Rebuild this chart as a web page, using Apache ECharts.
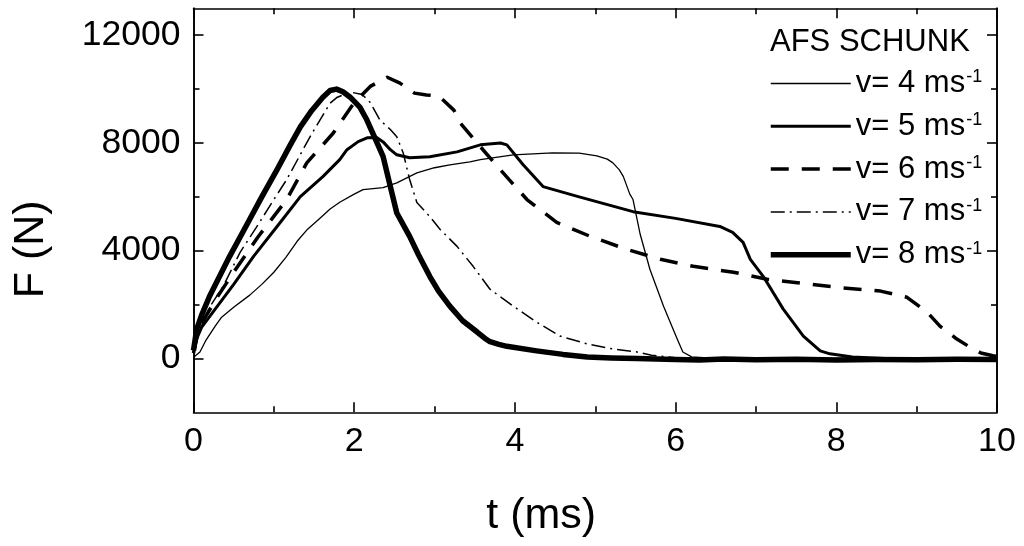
<!DOCTYPE html>
<html>
<head>
<meta charset="utf-8">
<script src="https://cdn.jsdelivr.net/npm/echarts@6/dist/echarts.min.js"></script>
<style>
html,body{margin:0;padding:0;background:#fff;}
#chart{width:1024px;height:546px;}
</style>
</head>
<body>
<div id="chart"></div>
<script>
// ---- data (t in ms, F in N) ----
const seriesNames = ['v= 4 ms', 'v= 5 ms', 'v= 6 ms', 'v= 7 ms', 'v= 8 ms'];
const legendTitle = 'AFS SCHUNK';
const xTitle = 't (ms)';
const yTitle = 'F (N)';
const yMajorTicks = [0, 4000, 8000, 12000];
const yMinorTicks = [2000, 6000, 10000];

const v4 = [[0,0],[0.02,90],[0.08,240],[0.15,650],[0.27,1200],[0.35,1530],[0.5,1900],[0.7,2350],[0.85,2750],[1.0,3200],[1.15,3750],[1.29,4350],[1.42,4800],[1.55,5140],[1.7,5550],[1.82,5800],[2.0,6100],[2.11,6270],[2.36,6340],[2.53,6520],[2.78,6890],[3.0,7080],[3.19,7190],[3.44,7300],[3.57,7380],[3.98,7560],[4.47,7630],[4.8,7620],[5.02,7520],[5.15,7400],[5.22,7260],[5.3,7000],[5.35,6750],[5.43,6100],[5.47,5900],[5.56,4600],[5.68,3310],[5.85,1940],[6.02,720],[6.09,240],[6.2,60],[6.5,0],[7,-20],[8,0],[9,-20],[10,0]];

const v5 = [[0,300],[0.05,800],[0.1,1150],[0.2,1550],[0.3,1950],[0.5,2750],[0.75,3800],[1.04,4900],[1.33,6010],[1.61,6750],[1.82,7380],[1.91,7750],[2.05,8050],[2.16,8190],[2.28,8200],[2.36,8040],[2.45,7750],[2.53,7560],[2.69,7450],[2.94,7490],[3.28,7670],[3.57,7930],[3.82,8000],[3.9,7930],[4.1,7200],[4.35,6380],[4.8,6000],[5.47,5450],[6.0,5200],[6.55,4900],[6.71,4680],[6.84,4310],[6.93,3680],[7.09,3050],[7.34,1830],[7.59,830],[7.8,280],[7.92,170],[8.2,50],[8.6,0],[9,-20],[10,0]];

const v6 = [[0,200],[0.05,900],[0.1,1300],[0.3,2300],[0.5,3200],[0.8,4500],[1.16,5900],[1.41,7260],[1.74,8370],[2.0,9500],[2.2,10100],[2.41,10440],[2.57,10220],[2.75,9850],[2.9,9780],[3.05,9750],[3.24,9220],[3.32,8740],[3.53,8000],[3.82,7000],[4.15,5900],[4.52,5050],[4.94,4530],[5.39,4050],[5.81,3680],[6.22,3420],[6.72,3200],[7.14,2940],[7.46,2830],[8.01,2640],[8.55,2500],[8.88,2270],[9.13,1720],[9.29,1200],[9.5,720],[9.66,425],[9.8,200],[9.95,100],[10,80]];

const v7 = [[0,200],[0.05,800],[0.1,1200],[0.2,1900],[0.37,2680],[0.58,3940],[0.79,4900],[1.0,5900],[1.16,6640],[1.45,8230],[1.7,9480],[1.79,9700],[1.95,9890],[2.1,9800],[2.2,9500],[2.32,8850],[2.45,8500],[2.53,8230],[2.61,7630],[2.69,6640],[2.78,5790],[2.94,5270],[3.07,4790],[3.28,4160],[3.48,3420],[3.69,2570],[3.98,1940],[4.27,1350],[4.56,830],[4.9,540],[5.22,350],[5.52,240],[5.7,120],[6.0,30],[7,0],[8,-10],[9,0],[10,0]];

const v8 = [[0,300],[0.04,1090],[0.1,1600],[0.2,2310],[0.3,2900],[0.45,3790],[0.67,5000],[0.85,6000],[1.04,7010],[1.2,7900],[1.33,8600],[1.47,9200],[1.61,9700],[1.7,9950],[1.78,10000],[1.86,9900],[1.95,9700],[2.07,9330],[2.15,8900],[2.23,8370],[2.3,7900],[2.36,7490],[2.45,6380],[2.53,5400],[2.69,4530],[2.8,3850],[2.94,3050],[3.05,2500],[3.19,1940],[3.35,1400],[3.53,980],[3.62,760],[3.69,620],[3.8,520],[3.9,450],[4.27,280],[4.6,150],[4.9,55],[5.2,20],[5.52,0],[6,-40],[6.3,-60],[6.6,-20],[7,-50],[7.5,-30],[8,-60],[8.5,-40],[9,-50],[9.5,-30],[10,-40]];

const allData = [v4, v5, v6, v7, v8];

// ---- styles ----
const FONT = '"Liberation Sans", Arial, sans-serif';
const lineStyles = [
  {width: 1.3, type: 'solid'},
  {width: 3, type: 'solid'},
  {width: 3.5, type: [18, 13]},
  {width: 1.5, type: [14, 5, 2, 5]},
  {width: 5.5, type: 'solid'}
];
const axisLineStyle = {color: '#000', width: 1.6};

function xAx(pos, labels) {
  return {
    type: 'value', position: pos, min: 0, max: 10, interval: 2,
    axisLine: {show: true, onZero: false, lineStyle: axisLineStyle},
    axisTick: {show: true, inside: true, length: 10, lineStyle: axisLineStyle},
    minorTick: {show: true, splitNumber: 2, length: 6, lineStyle: axisLineStyle},
    splitLine: {show: false}, minorSplitLine: {show: false},
    axisLabel: {show: labels, fontSize: 34, color: '#000', fontFamily: FONT, margin: 12},
    name: labels ? xTitle : '', nameLocation: 'middle', nameGap: 82,
    nameTextStyle: {fontSize: 43, color: '#000', fontFamily: FONT, padding: [0, 108, 0, 0]}
  };
}
function yAx(pos, ticks, len, labels, withName) {
  return {
    type: 'value', position: pos, min: -2000, max: 13000, offset: 0,
    axisLine: {show: true, onZero: false, lineStyle: axisLineStyle},
    axisTick: {show: true, inside: true, length: len, lineStyle: axisLineStyle, customValues: ticks},
    splitLine: {show: false},
    axisLabel: {show: labels, customValues: ticks, fontSize: 35.5, color: '#000', fontFamily: FONT, margin: 13,
      formatter: function (v) { return String(v); }},
    name: withName ? yTitle : '', nameLocation: 'middle', nameGap: 141,
    nameTextStyle: {fontSize: 43, color: '#000', fontFamily: FONT, padding: [0, 78, 0, 0]}
  };
}

const chart = echarts.init(document.getElementById('chart'), null, {renderer: 'canvas'});
chart.setOption({
  animation: false,
  backgroundColor: '#fff',
  grid: {left: 193.5, right: 27, top: 8.3, bottom: 133.7, containLabel: false},
  title: {
    text: legendTitle, left: 770, top: 27, padding: 0,
    textStyle: {fontSize: 31, fontWeight: 'normal', color: '#000', fontFamily: FONT}
  },
  legend: {
    orient: 'vertical', left: 768, top: 68, padding: 0, itemWidth: 80, itemHeight: 14, itemGap: 11.8,
    data: seriesNames,
    itemStyle: {color: 'rgba(0,0,0,0)', borderWidth: 0, opacity: 0},
    lineStyle: {width: 'inherit', type: 'inherit', color: '#000', cap: 'butt'},
    formatter: function (n) { return n + '{sup|-1}'; },
    textStyle: {
      fontSize: 31, color: '#000', fontFamily: FONT, lineHeight: 30,
      rich: {sup: {fontSize: 18, color: '#000', fontFamily: FONT, verticalAlign: 'top', lineHeight: 30, padding: [0, 0, 0, 1]}}
    }
  },
  xAxis: [xAx('bottom', true), xAx('top', false)],
  yAxis: [
    yAx('left', yMajorTicks, 10, true, true),
    yAx('left', yMinorTicks, 6, false, false),
    yAx('right', yMajorTicks, 10, false, false),
    yAx('right', yMinorTicks, 6, false, false)
  ],
  series: allData.map(function (d, i) {
    return {
      name: seriesNames[i], type: 'line', data: d,
      xAxisIndex: 0, yAxisIndex: 0,
      symbol: 'none', showSymbol: false, smooth: false,
      color: '#000',
      lineStyle: Object.assign({color: '#000', cap: 'butt', join: 'round'}, lineStyles[i]),
      z: 2 + i
    };
  })
});
</script>
</body>
</html>
